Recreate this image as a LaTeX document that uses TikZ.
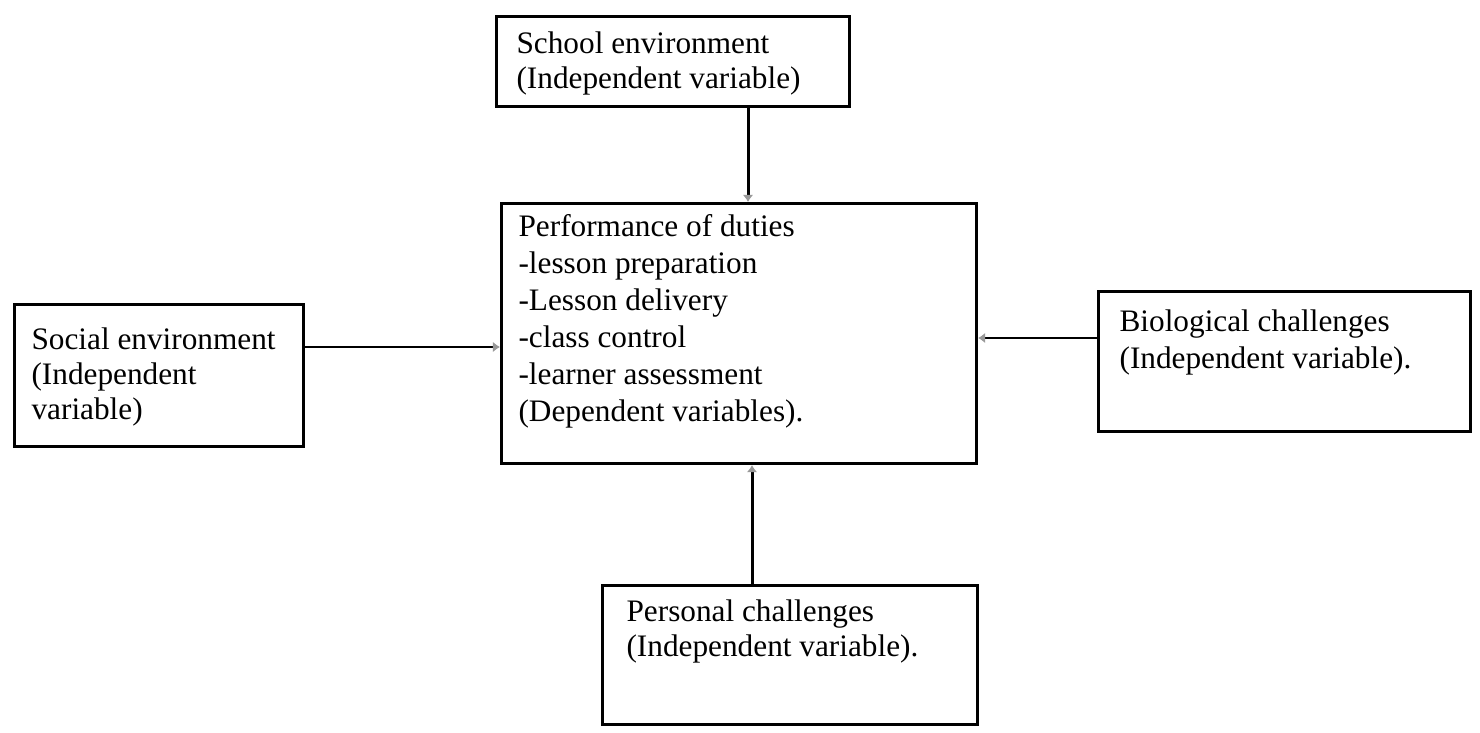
\documentclass[tikz,border=0pt]{standalone}
\usepackage{fontspec}
\setmainfont{Liberation Serif}
\usepackage{tikz}
\usetikzlibrary{arrows.meta, positioning, calc}

\newcommand{\boxpar}[5]{\parbox[c][#1][t]{#2}{\fontsize{17.8}{#4}\selectfont\raggedright\rule{0pt}{#3}#5}}

\begin{document}
\begin{tikzpicture}[
x=0.02cm, y=-0.02cm,
varbox/.style={draw, line width=1.8pt, anchor=north west, inner ysep=0pt},
link/.style={line width=1.7pt, -{Latex[length=4pt, width=6pt, color=black!40]}}
]
\useasboundingbox (0,0) rectangle (1480,733);

\node[varbox, inner xsep=0.4cm] (school) at (495,15)
{\boxpar{1.8cm}{6.26cm}{0.74cm}{19.9pt}{School environment\\(Independent variable)}};

\node[varbox, inner xsep=0.34cm] (duties) at (500,202)
{\boxpar{5.2cm}{8.82cm}{0.66cm}{21pt}{Performance of duties\\-lesson preparation\\-Lesson delivery\\-class control\\-learner assessment\\(Dependent variables).}};

\node[varbox, inner xsep=0.34cm] (social) at (13,303)
{\boxpar{2.84cm}{5.1cm}{0.9cm}{19.9pt}{Social environment\\(Independent\\variable)}};

\node[varbox, inner xsep=0.42cm] (biology) at (1097,290)
{\boxpar{2.8cm}{6.6cm}{0.8cm}{21pt}{Biological challenges\\(Independent variable).}};

\node[varbox, inner xsep=0.48cm] (personal) at (601,584)
{\boxpar{2.78cm}{6.54cm}{0.72cm}{19.9pt}{Personal challenges\\(Independent variable).}};

\coordinate (topjoin) at (748,0);
\coordinate (leftjoin) at (0,347);
\coordinate (rightjoin) at (0,338);
\coordinate (bottomjoin) at (752,0);

\draw[link] (school.south -| topjoin) -- (duties.north -| topjoin);
\draw[link] (social.east |- leftjoin) -- (duties.west |- leftjoin);
\draw[link] (biology.west |- rightjoin) -- (duties.east |- rightjoin);
\draw[link] (personal.north -| bottomjoin) -- (duties.south -| bottomjoin);

\end{tikzpicture}
\end{document}
